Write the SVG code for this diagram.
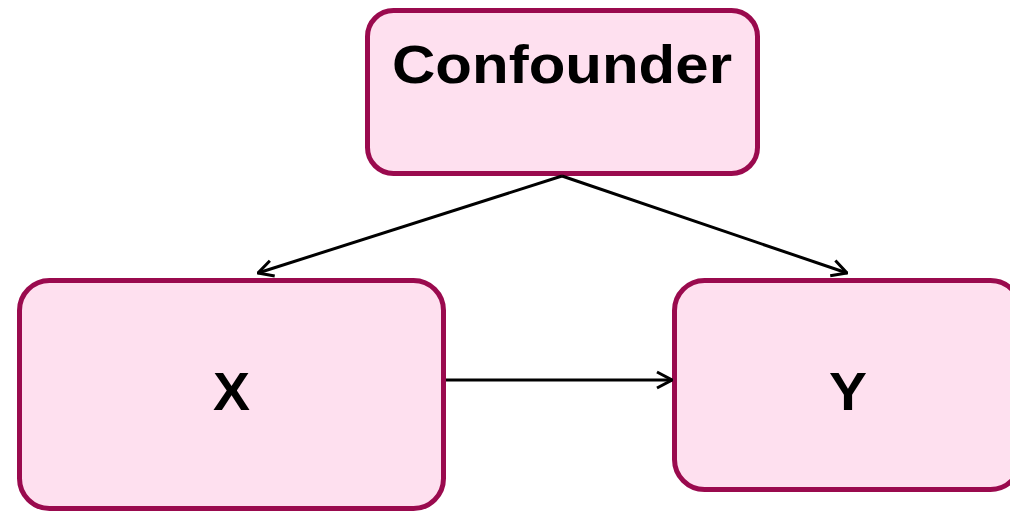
<svg xmlns="http://www.w3.org/2000/svg" width="1010" height="512" viewBox="0 0 1010 512">
  <style>
    .box { fill: #fee0ef; stroke: #9a0a4e; stroke-width: 5; }
    .label { font-family: "Liberation Sans", Arial, sans-serif; font-weight: bold; font-size: 53px; fill: #000; text-anchor: middle; }
    .edge { fill: none; stroke: #000; stroke-width: 3; }
  </style>
  <defs>
    <marker id="arrow" viewBox="0 0 20 20" refX="19" refY="10" markerWidth="20" markerHeight="20" markerUnits="userSpaceOnUse" orient="auto">
      <path d="M4,2 L19,10 L4,18" fill="none" stroke="#000" stroke-width="3"/>
    </marker>
  </defs>
  <rect width="1010" height="512" fill="#fff"/>

  <g id="confounder">
    <rect class="box" x="367.5" y="10.5" width="390" height="163" rx="26"/>
    <text class="label" x="562" y="83" textLength="340" lengthAdjust="spacingAndGlyphs">Confounder</text>
  </g>

  <g id="x">
    <rect class="box" x="19.5" y="280.5" width="424" height="228" rx="30"/>
    <text class="label" x="231.5" y="410" textLength="37" lengthAdjust="spacingAndGlyphs">X</text>
  </g>

  <g id="y">
    <rect class="box" x="674.5" y="280.5" width="346" height="209" rx="30"/>
    <text class="label" x="848" y="410" textLength="38" lengthAdjust="spacingAndGlyphs">Y</text>
  </g>

  <g id="connectors">
    <path class="edge" d="M562,176 L258,273" marker-end="url(#arrow)"/>
    <path class="edge" d="M562,176 L847,273" marker-end="url(#arrow)"/>
    <path class="edge" d="M446,380 L672,380" marker-end="url(#arrow)"/>
  </g>
</svg>
